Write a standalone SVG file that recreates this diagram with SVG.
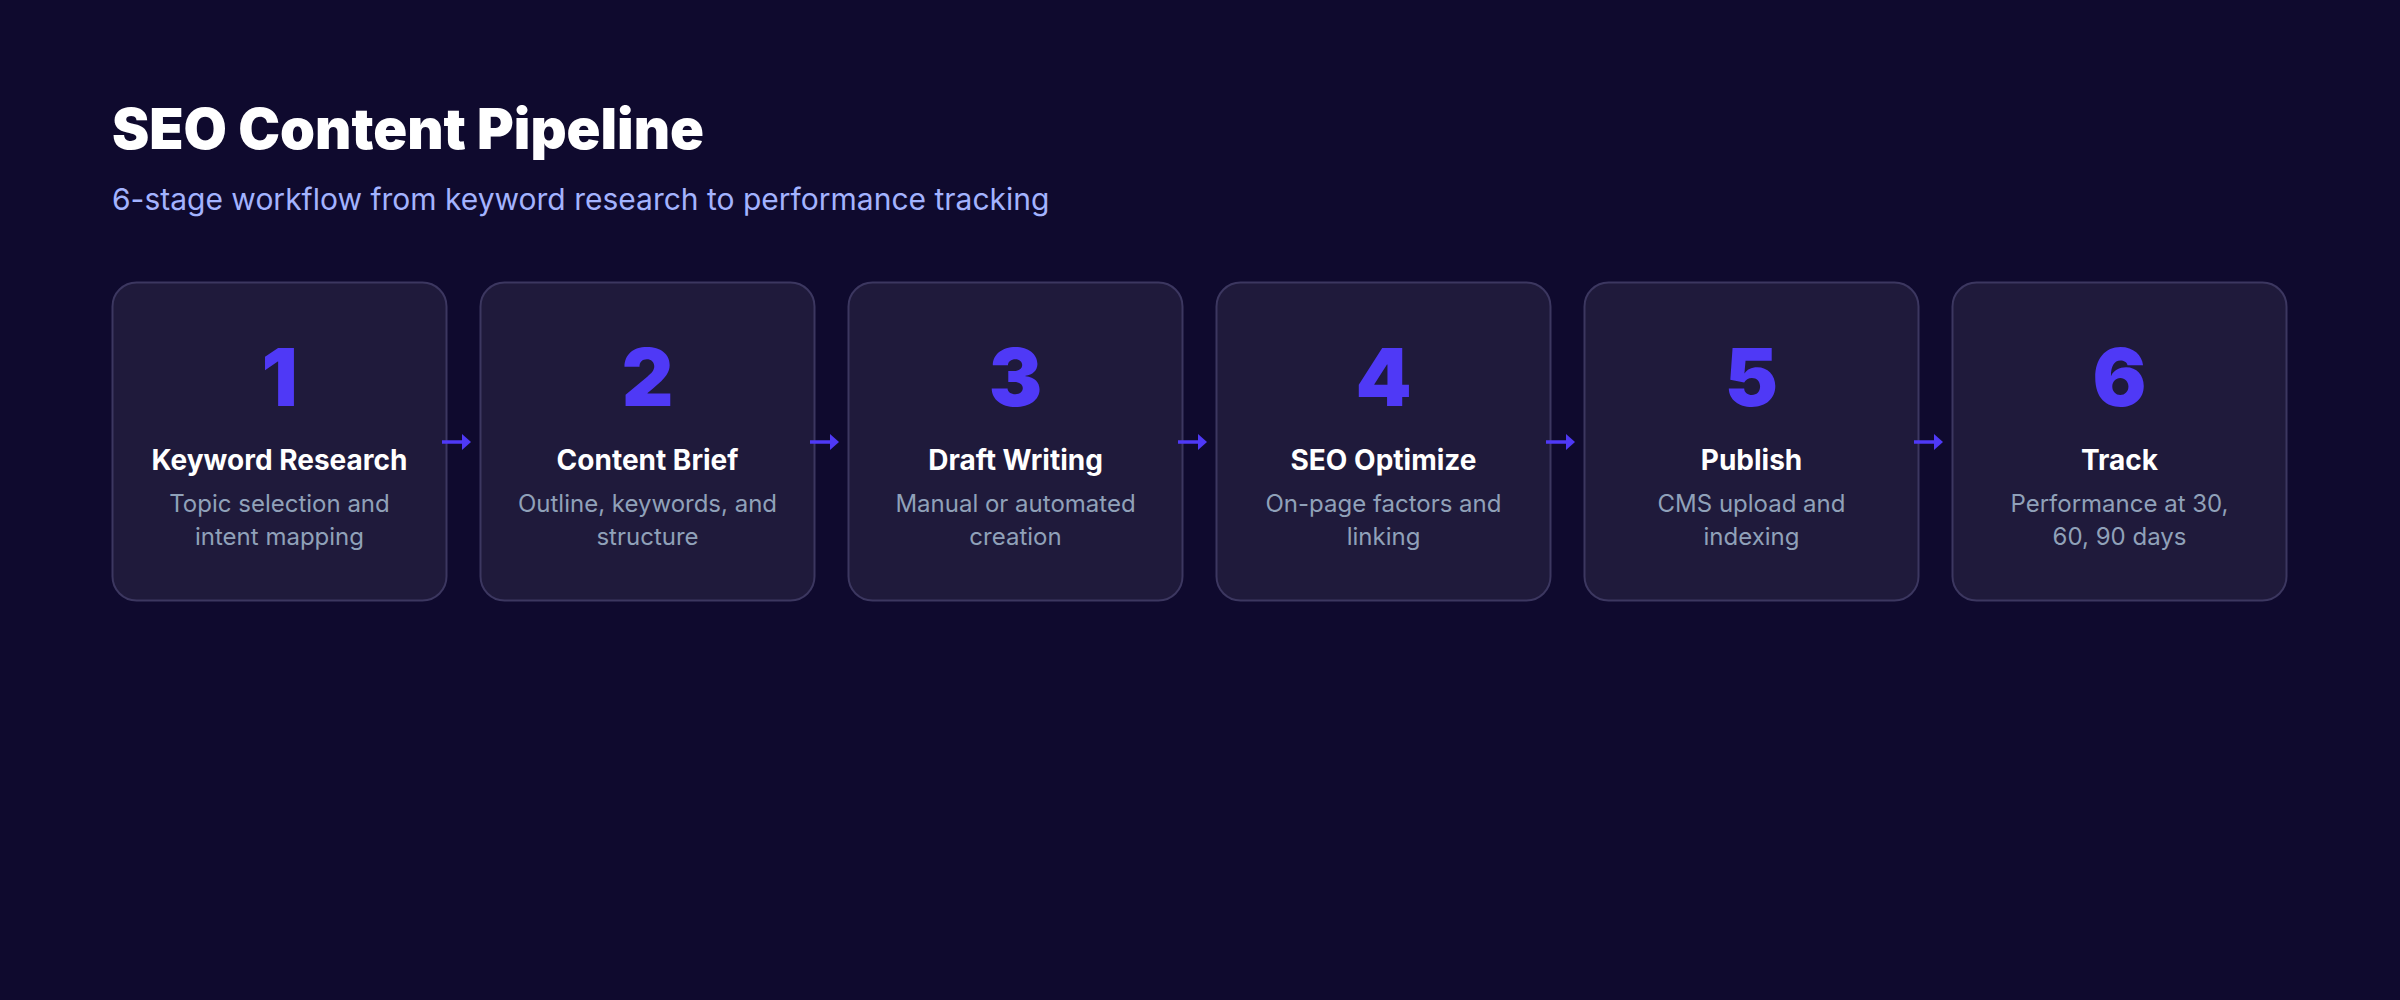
<svg xmlns="http://www.w3.org/2000/svg" width="2400" height="1000" viewBox="0 0 2400 1000">
  <style>
    .title { font-family: Inter, "Noto Sans", "Liberation Sans", sans-serif; font-weight: 900; font-size: 56px; fill: #ffffff; }
    .subtitle { font-family: Inter, "Noto Sans", "Liberation Sans", sans-serif; font-weight: 400; font-size: 30px; fill: #a3b3ff; }
    .card { fill: #1f1a3b; stroke: #3c3760; stroke-width: 2; }
    .num { font-family: Inter, "Noto Sans", "Liberation Sans", sans-serif; font-weight: 900; font-size: 80px; fill: #4f39f6; text-anchor: middle; }
    .name { font-family: Inter, "Noto Sans", "Liberation Sans", sans-serif; font-weight: 700; font-size: 28px; fill: #ffffff; text-anchor: middle; }
    .desc { font-family: Inter, "Noto Sans", "Liberation Sans", sans-serif; font-weight: 400; font-size: 24px; fill: #90a1b9; text-anchor: middle; }
    .conn { stroke: #4f39f6; stroke-width: 3.5; fill: none; }
    .head { fill: #4f39f6; }
  </style>
  <rect x="0" y="0" width="2400" height="1000" fill="#0f0a2e"/>
  <g id="header">
    <text class="title" x="112" y="149">SEO Content Pipeline</text>
    <text class="subtitle" x="112" y="210">6-stage workflow from keyword research to performance tracking</text>
  </g>

  <g id="stage1">
    <rect class="card" x="112.5" y="282.5" width="334" height="318" rx="24"/>
    <text class="num" x="279.5" y="406">1</text>
    <text class="name" x="279.5" y="470">Keyword Research</text>
    <text class="desc" x="279.5" y="512">Topic selection and</text>
    <text class="desc" x="279.5" y="545">intent mapping</text>
  </g>
  <g id="stage2">
    <rect class="card" x="480.5" y="282.5" width="334" height="318" rx="24"/>
    <text class="num" x="647.5" y="406">2</text>
    <text class="name" x="647.5" y="470">Content Brief</text>
    <text class="desc" x="647.5" y="512">Outline, keywords, and</text>
    <text class="desc" x="647.5" y="545">structure</text>
  </g>
  <g id="stage3">
    <rect class="card" x="848.5" y="282.5" width="334" height="318" rx="24"/>
    <text class="num" x="1015.5" y="406">3</text>
    <text class="name" x="1015.5" y="470">Draft Writing</text>
    <text class="desc" x="1015.5" y="512">Manual or automated</text>
    <text class="desc" x="1015.5" y="545">creation</text>
  </g>
  <g id="stage4">
    <rect class="card" x="1216.5" y="282.5" width="334" height="318" rx="24"/>
    <text class="num" x="1383.5" y="406">4</text>
    <text class="name" x="1383.5" y="470">SEO Optimize</text>
    <text class="desc" x="1383.5" y="512">On-page factors and</text>
    <text class="desc" x="1383.5" y="545">linking</text>
  </g>
  <g id="stage5">
    <rect class="card" x="1584.5" y="282.5" width="334" height="318" rx="24"/>
    <text class="num" x="1751.5" y="406">5</text>
    <text class="name" x="1751.5" y="470">Publish</text>
    <text class="desc" x="1751.5" y="512">CMS upload and</text>
    <text class="desc" x="1751.5" y="545">indexing</text>
  </g>
  <g id="stage6">
    <rect class="card" x="1952.5" y="282.5" width="334" height="318" rx="24"/>
    <text class="num" x="2119.5" y="406">6</text>
    <text class="name" x="2119.5" y="470">Track</text>
    <text class="desc" x="2119.5" y="512">Performance at 30,</text>
    <text class="desc" x="2119.5" y="545">60, 90 days</text>
  </g>

  <g id="connectors">
    <g transform="translate(0,0)">
      <line class="conn" x1="442" y1="442" x2="464" y2="442"/>
      <polygon class="head" points="462,434 471,442 462,450"/>
    </g>
    <g transform="translate(368,0)">
      <line class="conn" x1="442" y1="442" x2="464" y2="442"/>
      <polygon class="head" points="462,434 471,442 462,450"/>
    </g>
    <g transform="translate(736,0)">
      <line class="conn" x1="442" y1="442" x2="464" y2="442"/>
      <polygon class="head" points="462,434 471,442 462,450"/>
    </g>
    <g transform="translate(1104,0)">
      <line class="conn" x1="442" y1="442" x2="464" y2="442"/>
      <polygon class="head" points="462,434 471,442 462,450"/>
    </g>
    <g transform="translate(1472,0)">
      <line class="conn" x1="442" y1="442" x2="464" y2="442"/>
      <polygon class="head" points="462,434 471,442 462,450"/>
    </g>
  </g>
</svg>
